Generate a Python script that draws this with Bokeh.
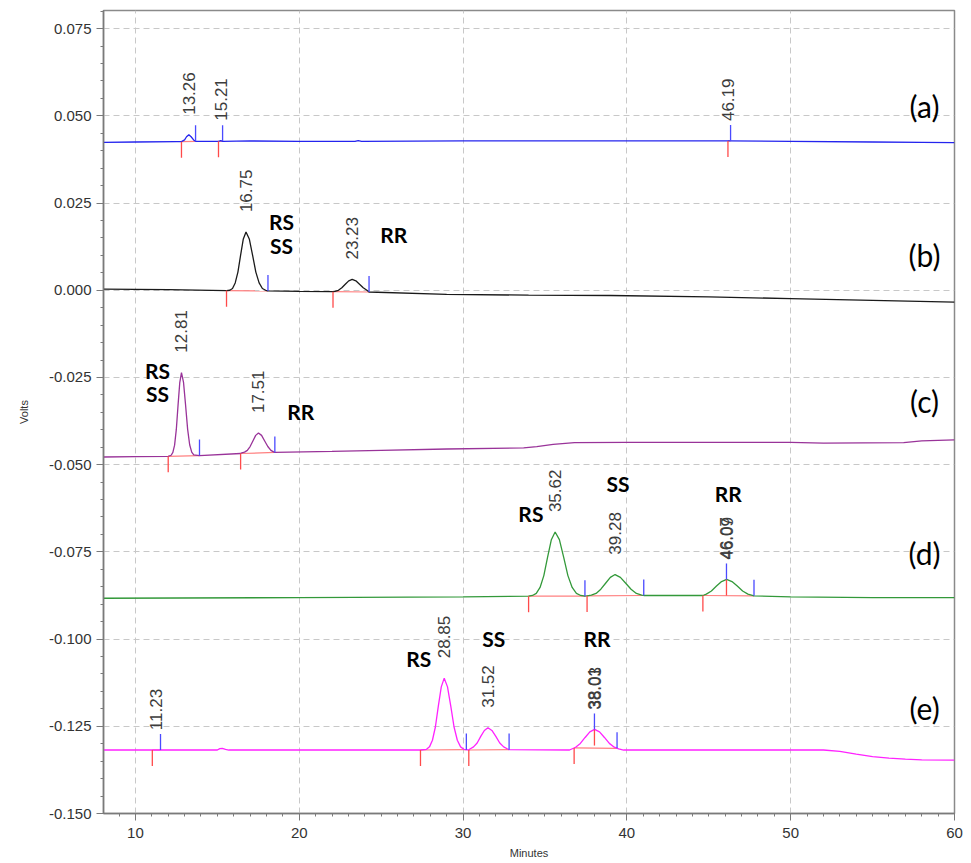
import numpy as np
from bokeh.plotting import figure
from bokeh.models import Range1d, FixedTicker, PrintfTickFormatter
from bokeh.core.properties import value
from bokeh.embed import file_html
from bokeh.resources import INLINE

# ---------------- data ----------------
x_ticks = [10, 20, 30, 40, 50, 60]
y_ticks = [-0.150, -0.125, -0.100, -0.075, -0.050, -0.025, 0.000, 0.025, 0.050, 0.075]

# (a) blue trace
t_a = [8.05, 10.0, 12.5, 12.81, 13.0, 13.12, 13.26, 13.4, 13.55, 13.67, 15.0, 15.07, 15.15, 15.21, 15.32,
       17.0, 20.0, 23.4, 23.6, 23.8, 30.0, 40.0, 46.19, 50.0, 55.0, 58.0, 60.0]
v_a = [0.0424, 0.0425, 0.0426, 0.0426, 0.0431, 0.0440, 0.0446, 0.0440, 0.0431, 0.0427, 0.0427, 0.0427, 0.0428, 0.0429, 0.0427,
       0.0428, 0.0427, 0.0427, 0.0429, 0.0427, 0.0428, 0.0428, 0.0428, 0.0427, 0.0425, 0.0424, 0.0423]
pk_a_label = ["13.26", "15.21", "46.19"]
pk_a_apex = [13.26, 15.21, 46.19]
pk_a_start = [12.81, 15.07, 46.17]
pk_a_end = [13.67, 15.32, 46.33]

# (b) black trace
t_b = [8.05, 12.0, 15.56, 15.76, 15.925, 16.09, 16.255, 16.42, 16.585, 16.75, 16.95, 17.15, 17.35, 17.55, 17.75, 17.95, 18.09,
       20.0, 22.06, 22.18, 22.39, 22.6, 22.81, 23.02, 23.23, 23.455, 23.68, 23.905, 24.13, 24.26,
       29.0, 34.0, 39.0, 45.0, 50.0, 55.0, 60.0]
v_b = [0.0003, 0.0002, -0.0001, -0.0000, 0.0005, 0.0021, 0.0052, 0.0101, 0.0147, 0.0167, 0.0147, 0.0101, 0.0052, 0.0021, 0.0005, 0.0000, -0.0002,
       -0.0003, -0.0004, -0.0003, 0.0000, 0.0007, 0.0017, 0.0027, 0.0031, 0.0027, 0.0017, 0.0007, 0.0000, -0.0005,
       -0.0012, -0.0014, -0.0015, -0.0019, -0.0024, -0.0029, -0.0034]
pk_b_label = ["16.75", "23.23"]
pk_b_apex = [16.75, 23.23]
pk_b_start = [15.56, 22.06]
pk_b_end = [18.09, 24.26]

# (c) purple trace
t_c = [8.05, 10.0, 12.0, 12.18, 12.285, 12.39, 12.495, 12.6, 12.705, 12.81, 12.935, 13.06, 13.185, 13.31, 13.435, 13.56, 13.91,
       16.42, 16.49, 16.66, 16.83, 17.0, 17.17, 17.34, 17.51, 17.7, 17.89, 18.08, 18.27, 18.46, 18.51,
       22.0, 25.0, 29.0, 33.7, 34.5, 35.5, 36.8, 40.0, 45.0, 50.0, 52.0, 56.9, 58.0, 60.0]
v_c = [-0.0478, -0.0477, -0.0476, -0.0473, -0.0465, -0.0444, -0.0399, -0.0330, -0.0265, -0.0236, -0.0264, -0.0329, -0.0398, -0.0443, -0.0464, -0.0472, -0.0474,
       -0.0468, -0.0466, -0.0464, -0.0459, -0.0448, -0.0432, -0.0416, -0.0409, -0.0416, -0.0432, -0.0448, -0.0459, -0.0464, -0.0465,
       -0.0462, -0.0459, -0.0455, -0.0452, -0.0448, -0.0442, -0.0437, -0.0436, -0.0436, -0.0436, -0.0438, -0.0437, -0.0432, -0.0429]
pk_c_label = ["12.81", "17.51"]
pk_c_apex = [12.81, 17.51]
pk_c_start = [12.00, 16.42]
pk_c_end = [13.91, 18.51]

# (d) green trace
t_d = [8.05, 20.0, 30.0, 34.0, 34.24, 34.47, 34.7, 34.93, 35.16, 35.39, 35.62, 35.88, 36.14, 36.4, 36.66, 36.92, 37.18, 37.44,
       37.57, 37.83, 38.12, 38.41, 38.7, 38.99, 39.28, 39.605, 39.93, 40.255, 40.58, 40.905, 41.03,
       44.64, 44.85, 45.16, 45.47, 45.78, 46.09, 46.415, 46.74, 47.065, 47.39, 47.76, 50.0, 55.0, 60.0]
v_d = [-0.0883, -0.0881, -0.0879, -0.0877, -0.0875, -0.0869, -0.0852, -0.0818, -0.0765, -0.0715, -0.0693, -0.0715, -0.0765, -0.0818, -0.0852, -0.0869, -0.0875, -0.0877,
       -0.0876, -0.0874, -0.0869, -0.0857, -0.0840, -0.0823, -0.0815, -0.0823, -0.0840, -0.0857, -0.0869, -0.0874, -0.0875,
       -0.0875, -0.0871, -0.0862, -0.0848, -0.0835, -0.0829, -0.0835, -0.0848, -0.0862, -0.0871, -0.0876, -0.0879, -0.0881, -0.0881]
pk_d_label = ["35.62", "39.28", "46.07", "46.09"]
pk_d_apex = [35.62, 39.28, 46.07, 46.09]
pk_d_start = [34.00, 37.57, 44.64, 46.08]
pk_d_end = [37.44, 41.03, 46.08, 47.76]

# (e) magenta trace
t_e = [8.05, 11.23, 15.0, 15.15, 15.3, 15.5, 15.7,
       27.4, 27.77, 27.95, 28.13, 28.31, 28.49, 28.67, 28.85, 29.05, 29.25, 29.45, 29.65, 29.85, 30.05,
       30.35, 30.42, 30.64, 30.86, 31.08, 31.3, 31.52, 31.76, 32.0, 32.24, 32.48, 32.72, 32.81,
       36.5, 36.87, 37.16, 37.45, 37.74, 38.03, 38.33, 38.63, 38.93, 39.23, 39.5, 39.8,
       45.0, 52.0, 53.0, 54.0, 55.0, 56.0, 57.0, 58.0, 60.0]
v_e = [-0.1318, -0.1318, -0.1318, -0.1314, -0.1313, -0.1316, -0.1318,
       -0.1318, -0.1316, -0.1309, -0.1290, -0.1252, -0.1192, -0.1137, -0.1112, -0.1137, -0.1192, -0.1252, -0.1290, -0.1309, -0.1316,
       -0.1318, -0.1315, -0.1309, -0.1298, -0.1279, -0.1262, -0.1254, -0.1262, -0.1279, -0.1298, -0.1309, -0.1315, -0.1317,
       -0.1318, -0.1310, -0.1299, -0.1282, -0.1266, -0.1259, -0.1266, -0.1282, -0.1299, -0.1310, -0.1315, -0.1318,
       -0.1318, -0.1318, -0.1322, -0.1330, -0.1337, -0.1341, -0.1344, -0.1346, -0.1347]
pk_e_label = ["11.23", "28.85", "31.52", "38.01", "38.03"]
pk_e_apex = [11.23, 28.85, 31.52, 38.01, 38.03]
pk_e_start = [11.03, 27.40, 30.35, 36.78, 38.02]
pk_e_end = [11.53, 30.20, 32.81, 38.02, 39.40]

# isomer annotations
ann_text = ["RS", "SS", "RR", "RS", "SS", "RR", "RS", "SS", "RR", "RS", "SS", "RR"]
ann_t = [18.92, 18.92, 25.77, 11.35, 11.35, 20.09, 34.14, 39.46, 46.19, 27.30, 31.88, 38.18]
ann_v = [0.0198, 0.0129, 0.0161, -0.0229, -0.0295, -0.0347, -0.0639, -0.0553, -0.0582, -0.1055, -0.0998, -0.0998]

# panel letters
panel_text = ["(a)", "(b)", "(c)", "(d)", "(e)"]
panel_t = [58.17, 58.17, 58.17, 58.17, 58.17]
panel_v = [0.0528, 0.0100, -0.0318, -0.0754, -0.1198]

# ---------------- figure ----------------
p = figure(width=971, height=863, x_range=Range1d(8.05, 60.0), y_range=Range1d(-0.150, 0.0802),
           output_backend="svg", toolbar_location=None)
p.min_border_left = 103
p.min_border_right = 17
p.min_border_top = 10
p.min_border_bottom = 50
p.background_fill_color = "white"
p.border_fill_color = "white"
p.outline_line_color = "#8a8a8a"
p.outline_line_width = 1.5

p.xaxis.ticker = FixedTicker(ticks=x_ticks, minor_ticks=list(range(8, 61)))
p.yaxis.ticker = FixedTicker(ticks=y_ticks, minor_ticks=[round(-0.150 + 0.005 * i, 4) for i in range(47)])
p.yaxis.formatter = PrintfTickFormatter(format="%.3f")
p.xgrid.ticker = FixedTicker(ticks=x_ticks)
p.ygrid.ticker = FixedTicker(ticks=y_ticks)
p.grid.grid_line_color = "#c8c8c8"
p.grid.grid_line_dash = "6 4"
p.grid.grid_line_width = 1

p.xaxis.axis_label = "Minutes"
p.yaxis.axis_label = "Volts"
for ax in (p.xaxis, p.yaxis):
    ax.axis_label_text_font = "Liberation Sans"
    ax.axis_label_text_font_size = "11px"
    ax.axis_label_text_font_style = "normal"
    ax.axis_label_text_color = "#333333"
    ax.major_label_text_font = "Liberation Sans"
    ax.major_label_text_font_size = "15px"
    ax.major_label_text_color = "#333333"
    ax.axis_line_color = "#7a7a7a"
    ax.axis_line_width = 1.5
    ax.major_tick_line_color = "#7a7a7a"
    ax.minor_tick_line_color = "#7a7a7a"
    ax.major_tick_out = 7
    ax.major_tick_in = 0
    ax.minor_tick_out = 3
    ax.minor_tick_in = 0
p.xaxis.major_label_standoff = 7
p.xaxis.axis_label_standoff = 6
p.yaxis.major_label_standoff = 5
p.yaxis.axis_label_standoff = 16

TICK = 0.0046       # length of the integration tick marks (in volts)
LABEL_GAP = 0.0057  # gap between apex and retention-time label

traces = [
    (t_a, v_a, "#2424ee", pk_a_label, pk_a_apex, pk_a_start, pk_a_end),
    (t_b, v_b, "#1a1a1a", pk_b_label, pk_b_apex, pk_b_start, pk_b_end),
    (t_c, v_c, "#993399", pk_c_label, pk_c_apex, pk_c_start, pk_c_end),
    (t_d, v_d, "#33993a", pk_d_label, pk_d_apex, pk_d_start, pk_d_end),
    (t_e, v_e, "#ff22ff", pk_e_label, pk_e_apex, pk_e_start, pk_e_end),
]

for t, v, col, labels, apex, start, end in traces:
    sig = lambda x, t=t, v=v: float(np.interp(x, t, v))
    # integration baselines (grouped when a peak starts where the previous ends)
    groups = []
    for s, e in zip(start, end):
        if groups and abs(s - groups[-1][1]) < 0.02:
            groups[-1][1] = e
        else:
            groups.append([s, e])
    p.segment(x0=[g[0] for g in groups], y0=[sig(g[0]) for g in groups],
              x1=[g[1] for g in groups], y1=[sig(g[1]) for g in groups],
              line_color="#ff8080", line_width=1.2)
    p.line(t, v, line_color=col, line_width=1.3)
    p.segment(x0=start, y0=[sig(s) for s in start], x1=start, y1=[sig(s) - TICK for s in start],
              line_color="#ff4a4a", line_width=1.3)
    p.segment(x0=end, y0=[sig(e) for e in end], x1=end, y1=[sig(e) + TICK for e in end],
              line_color="#4a4aff", line_width=1.3)
    p.text(x=apex, y=[sig(a) + LABEL_GAP for a in apex], text=labels, angle=np.pi / 2,
           text_align="left", text_baseline="middle", text_font=value("Liberation Sans"),
           text_font_size="17px", text_color="#3c3c3c")

p.text(x=ann_t, y=ann_v, text=ann_text, text_align="center", text_baseline="middle",
       text_font=value("Lato"), text_font_style="bold", text_font_size="21px", text_color="black")
p.text(x=panel_t, y=panel_v, text=panel_text, text_align="center", text_baseline="middle",
       text_font=value("Lato"), text_font_size="30px", text_color="black")

open("out.html", "w").write(file_html(p, INLINE))
